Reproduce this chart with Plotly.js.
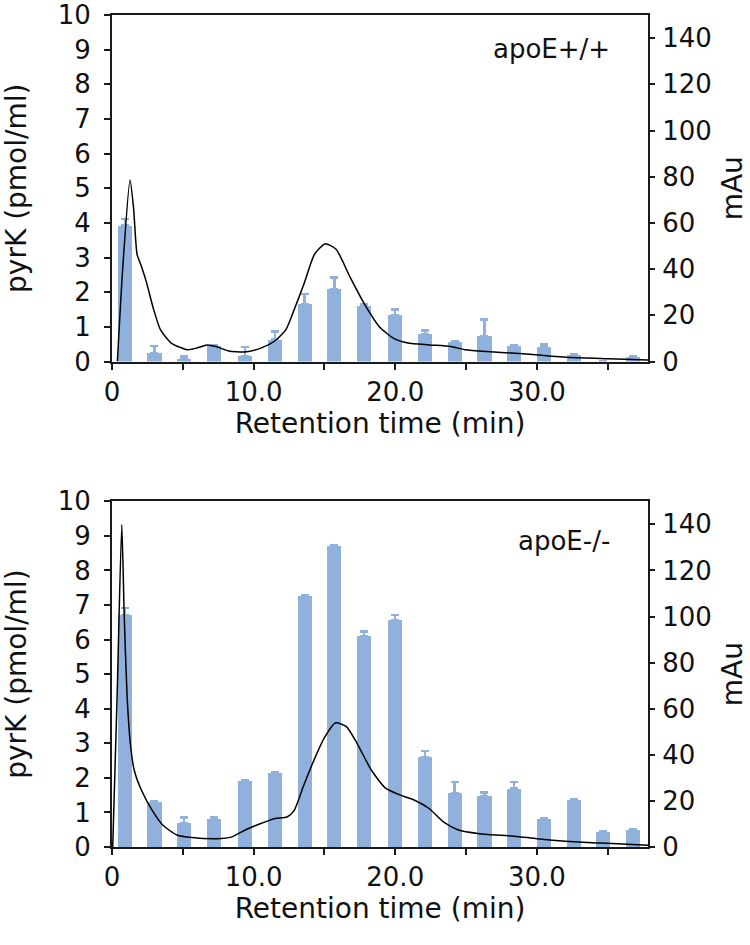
<!DOCTYPE html>
<html>
<head>
<meta charset="utf-8">
<script src="https://cdn.plot.ly/plotly-3.0.1.min.js"></script>
<style>
  html, body { margin: 0; padding: 0; background: #fff; }
  #plot { width: 750px; height: 945px; }
</style>
</head>
<body>
<div id="plot"></div>
<script>
// fraction centres (min) – same for both panels
const fractionTimes = [0.9, 3.0, 5.1, 7.2, 9.4, 11.5, 13.6, 15.7, 17.8, 20.0, 22.1, 24.2, 26.3, 28.4, 30.5, 32.6, 34.7, 36.8];

// apoE+/+ pyrK (pmol/ml) and upper error
const wtPyrK = [3.92, 0.24, 0.06, 0.44, 0.15, 0.63, 1.66, 2.1, 1.61, 1.35, 0.8, 0.56, 0.74, 0.45, 0.43, 0.19, 0, 0.12];
const wtErr  = [0.2, 0.21, 0.09, 0.04, 0.27, 0.24, 0.29, 0.33, 0.04, 0.15, 0.1, 0.03, 0.47, 0.03, 0.07, 0.02, 0, 0.03];

// apoE-/- pyrK (pmol/ml) and upper error
const koPyrK = [6.71, 1.3, 0.7, 0.82, 1.91, 2.14, 7.27, 8.7, 6.09, 6.57, 2.59, 1.55, 1.47, 1.69, 0.8, 1.35, 0.43, 0.5];
const koErr  = [0.2, 0.03, 0.15, 0.03, 0.03, 0.03, 0.02, 0.02, 0.14, 0.14, 0.19, 0.33, 0.1, 0.19, 0.02, 0.02, 0.02, 0.02];

// UV trace (mAu) apoE+/+
const wtTraceTime = [0.38, 0.76, 1.27, 1.52, 1.77, 2.03, 2.41, 2.91, 3.42, 4.18, 5.32, 5.95, 6.71, 7.34, 8.23, 9.37, 10.51, 11.52, 12.28, 12.91, 13.54, 14.3, 15.06, 15.82, 16.84, 17.85, 18.86, 19.87, 20.89, 22.41, 23.92, 24.94, 26.46, 28.48, 30.51, 32.53, 35.06, 37.85];
const wtTraceMAu  = [0, 40.6, 78.6, 66.7, 46.4, 42, 34.8, 23.2, 13.8, 8.0, 5.1, 5.8, 7.2, 6.5, 4.6, 4.1, 5.8, 9.0, 13.8, 23.2, 33.3, 46.4, 51, 48.6, 36.2, 24.6, 15.2, 10.1, 8.0, 7.2, 6.5, 5.1, 4.3, 3.6, 2.6, 1.7, 1.2, 0.7];

// UV trace (mAu) apoE-/-
const koTraceTime = [0.05, 0.36, 0.69, 0.86, 1.07, 1.32, 1.57, 2.08, 2.84, 3.6, 4.62, 5.63, 7.41, 8.43, 9.44, 10.46, 11.47, 12.36, 12.87, 13.5, 14.26, 15.03, 15.79, 16.55, 17.31, 18.32, 19.34, 20.36, 21.37, 22.39, 23.4, 24.42, 25.94, 27.46, 28.6, 30.0, 32.03, 34.57, 37.87];
const koTraceMAu  = [0, 65, 139.9, 101, 65, 43.5, 33.3, 24.6, 15.9, 9.4, 5.1, 4.1, 3.6, 4.3, 7.5, 10.1, 12.3, 13.0, 15.9, 26.1, 37.7, 47.8, 53.9, 52.2, 44.9, 33.3, 25.4, 22.5, 20.3, 16.7, 10.9, 7.5, 5.8, 5.1, 4.6, 3.6, 2.5, 1.7, 0.7];

const xTickVals = [0, 5, 10, 15, 20, 25, 30, 35];
const xTickText = ['0', '', '10.0', '', '20.0', '', '30.0', ''];
const leftTickVals = [0, 1, 2, 3, 4, 5, 6, 7, 8, 9, 10];
const rightTickVals = [0, 20, 40, 60, 80, 100, 120, 140];

const barColor = '#8fb1dc';
const axisColor = '#1a1a1a';
const fontFamily = 'DejaVu Sans, sans-serif';

function zeros(n) { return new Array(n).fill(0); }

function barTrace(y, err, xa, ya) {
    return {
        type: 'bar',
        x: fractionTimes,
        y: y,
        width: 1.0,
        xaxis: xa,
        yaxis: ya,
        marker: { color: barColor },
        error_y: {
            type: 'data', symmetric: false,
            array: err, arrayminus: zeros(err.length),
            color: barColor, thickness: 2.5, width: 4
        },
        showlegend: false
    };
}

function lineTrace(x, y, xa, ya) {
    return {
        type: 'scatter',
        mode: 'lines',
        x: x,
        y: y,
        xaxis: xa,
        yaxis: ya,
        line: { color: '#000', width: 1.5, shape: 'spline', smoothing: 0.6 },
        showlegend: false
    };
}

const data = [
    barTrace(wtPyrK, wtErr, 'x', 'y'),
    lineTrace(wtTraceTime, wtTraceMAu, 'x', 'y2'),
    barTrace(koPyrK, koErr, 'x2', 'y3'),
    lineTrace(koTraceTime, koTraceMAu, 'x2', 'y4')
];

const tickFont = { family: fontFamily, size: 26, color: '#111' };
const titleFont = { family: fontFamily, size: 28, color: '#111' };

function xAxis(anchor) {
    return {
        anchor: anchor,
        domain: [0, 1],
        range: [0, 37.85],
        tickvals: xTickVals,
        ticktext: xTickText,
        ticks: 'outside', ticklen: 6, tickwidth: 2, tickcolor: axisColor,
        showline: true, linewidth: 2, linecolor: axisColor, mirror: true,
        showgrid: false, zeroline: false,
        tickfont: tickFont,
        title: { text: 'Retention time (min)', font: titleFont, standoff: 6 }
    };
}

function leftAxis(anchor, domain) {
    return {
        anchor: anchor,
        domain: domain,
        range: [0, 10.001],
        tickvals: leftTickVals,
        ticks: 'outside', ticklen: 6, tickwidth: 2, tickcolor: axisColor,
        ticklabelstandoff: 8,
        showline: true, linewidth: 2, linecolor: axisColor,
        showgrid: false, zeroline: false,
        tickfont: tickFont,
        title: { text: 'pyrK (pmol/ml)', font: titleFont, standoff: 26 }
    };
}

function rightAxis(anchor, overlay) {
    return {
        anchor: anchor,
        overlaying: overlay,
        side: 'right',
        range: [0, 150],
        tickvals: rightTickVals,
        ticks: 'outside', ticklen: 5, tickwidth: 2, tickcolor: axisColor,
        ticklabelstandoff: 2,
        showline: true, linewidth: 2, linecolor: axisColor,
        showgrid: false, zeroline: false,
        tickfont: tickFont,
        title: { text: 'mAu', font: titleFont, standoff: 12 }
    };
}

const layout = {
    width: 750,
    height: 945,
    margin: { l: 112, r: 102, t: 15, b: 98 },
    paper_bgcolor: '#fff',
    plot_bgcolor: '#fff',
    font: { family: fontFamily, color: '#111' },
    bargap: 0,
    xaxis: xAxis('y'),
    yaxis: leftAxis('x', [0.5835, 1]),
    yaxis2: rightAxis('x', 'y'),
    xaxis2: xAxis('y3'),
    yaxis3: leftAxis('x2', [0, 0.4155]),
    yaxis4: rightAxis('x2', 'y3'),
    annotations: [
        { text: 'apoE+/+', xref: 'x', yref: 'y', x: 35.3, y: 9.03, xanchor: 'right', yanchor: 'middle',
          showarrow: false, font: { family: fontFamily, size: 26, color: '#111' } },
        { text: 'apoE-/-', xref: 'x2', yref: 'y3', x: 35.3, y: 8.86, xanchor: 'right', yanchor: 'middle',
          showarrow: false, font: { family: fontFamily, size: 26, color: '#111' } }
    ]
};

Plotly.newPlot('plot', data, layout, { displayModeBar: false, staticPlot: true });
</script>
</body>
</html>
